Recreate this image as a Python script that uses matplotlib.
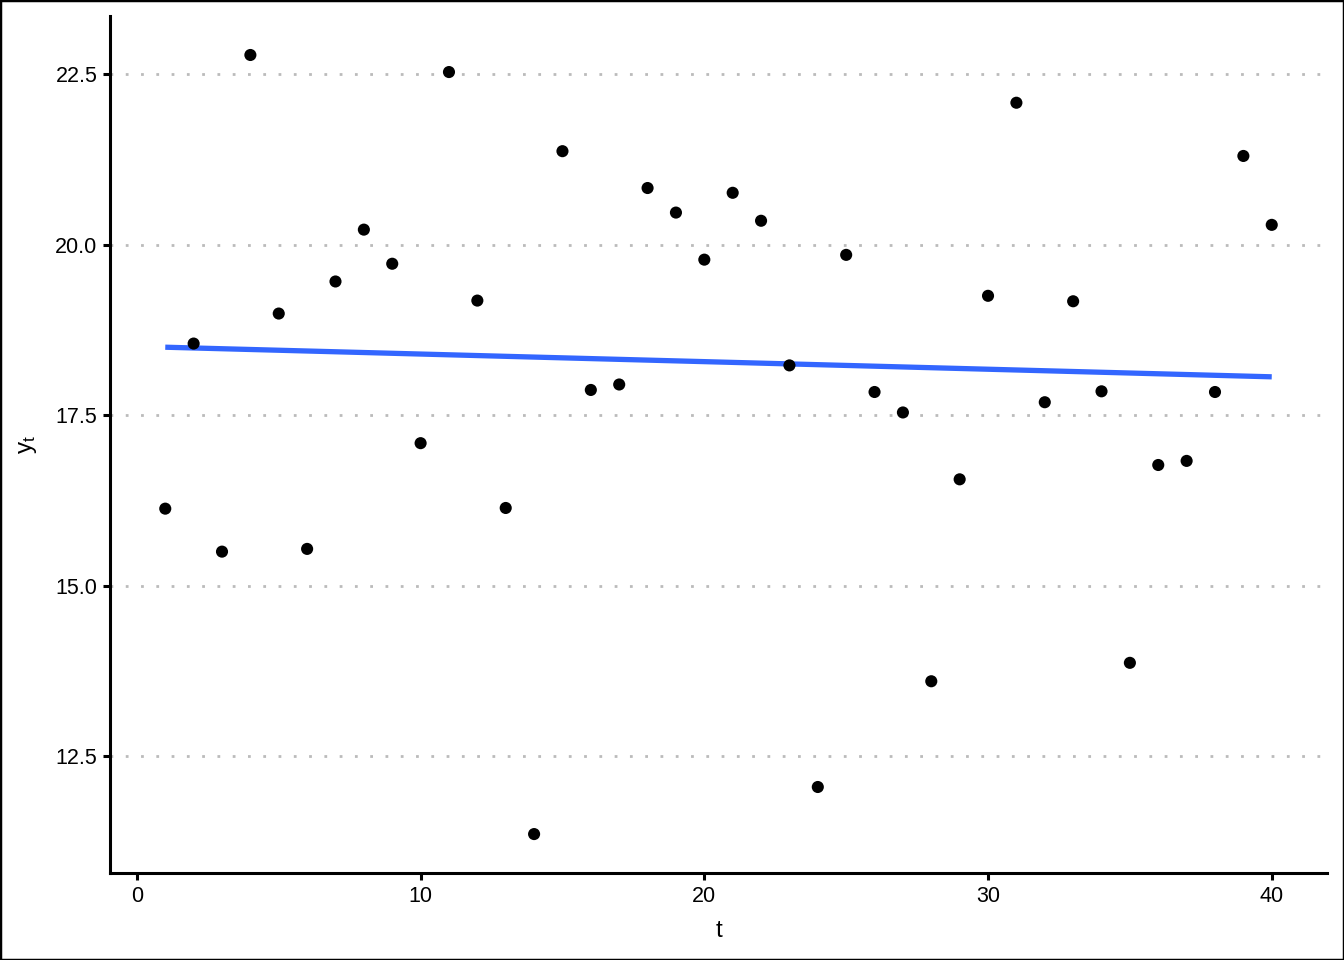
import numpy as np
import matplotlib
matplotlib.use('Agg')
import matplotlib.pyplot as plt
from matplotlib.patches import Rectangle

plt.rcParams['font.family'] = ['Liberation Sans', 'DejaVu Sans']
plt.rcParams['mathtext.fontset'] = 'custom'
plt.rcParams['mathtext.rm'] = 'Liberation Sans'

# series values
t = np.arange(1, 41)
y = [16.13, 18.55, 15.50, 22.78, 18.99, 15.54, 19.46, 20.22, 19.72, 17.09,
     22.53, 19.18, 16.14, 11.36, 21.37, 17.87, 17.95, 20.83, 20.47, 19.78,
     20.76, 20.35, 18.23, 12.05, 19.85, 17.84, 17.54, 13.60, 16.56, 19.25,
     22.08, 17.69, 19.17, 17.85, 13.87, 16.77, 16.83, 17.84, 21.30, 20.29]
xticks = [0, 10, 20, 30, 40]
yticks = [12.5, 15.0, 17.5, 20.0, 22.5]

y = np.array(y)
fig = plt.figure(figsize=(13.44, 9.6), dpi=100)
ax = fig.add_axes([0.0818, 0.0906, 0.9874 - 0.0818, 0.9833 - 0.0906])

# linear fit line
b, a = np.polyfit(t, y, 1)
ax.plot(t, a + b * t, color='#3366FF', lw=3.8, zorder=3, solid_capstyle='butt')
ax.scatter(t, y, s=76, color='black', zorder=4, edgecolors='none')

# dotted horizontal grid
for v in yticks:
    ax.axhline(v, color='#BBBBBB', lw=2.0, ls=(0, (1, 4.5)), zorder=1)

rng = t.max() - t.min()
ax.set_xlim(t.min() - 0.05 * rng, t.max() + 0.05 * rng)
yr = y.max() - y.min()
ax.set_ylim(y.min() - 0.05 * yr, y.max() + 0.05 * yr)

ax.set_xticks(xticks)
ax.set_yticks(yticks)
ax.set_yticklabels(['%.1f' % v for v in yticks])
ax.tick_params(axis='both', labelsize=15.5, width=2.2, length=5, color='black',
               labelcolor='black', pad=4)

for s in ['top', 'right']:
    ax.spines[s].set_visible(False)
for s in ['left', 'bottom']:
    ax.spines[s].set_linewidth(2.2)

ax.set_xlabel('t', fontsize=17.5, labelpad=10)
ax.set_ylabel(r'$\mathregular{y_t}$', fontsize=17.5, labelpad=12)

fig.patches.append(Rectangle((0, 0), 1, 1, transform=fig.transFigure,
                             fill=False, edgecolor='black', lw=2.5))

fig.savefig('out.png', dpi=100)
